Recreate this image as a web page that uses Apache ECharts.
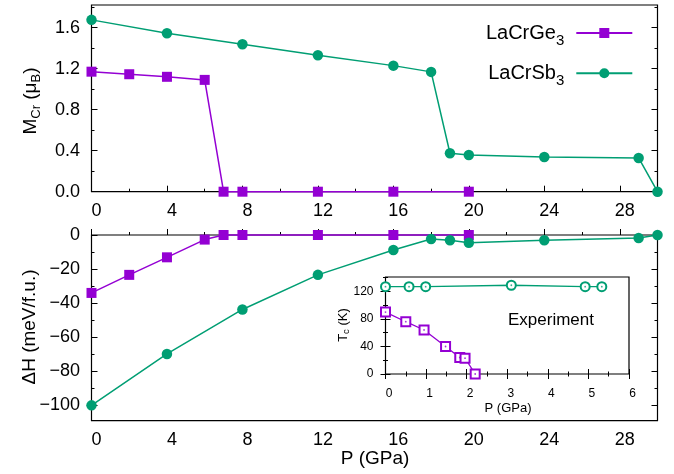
<!DOCTYPE html>
<html>
<head>
<meta charset="utf-8">
<script src="https://cdn.jsdelivr.net/npm/echarts@6/dist/echarts.min.js"></script>
<style>
  html, body { margin: 0; padding: 0; background: #fff; }
  #chart { width: 674px; height: 474px; }
</style>
</head>
<body>
<div id="chart"></div>
<script>
// Calculated Cr moment and enthalpy difference versus pressure
const pressureGe = [0, 2, 4, 6, 7, 8, 12, 16, 20];
const momentGe = [1.17, 1.145, 1.12, 1.09, 0, 0, 0, 0, 0];
const enthalpyGe = [-34, -23.4, -13.1, -2.7, 0, 0, 0, 0, 0];

const pressureSb = [0, 4, 8, 12, 16, 18, 19, 20, 24, 29, 30];
const momentSb = [1.675, 1.545, 1.438, 1.33, 1.229, 1.168, 0.375, 0.358, 0.339, 0.329, 0];
const enthalpySb = [-100, -69.8, -43.7, -23.4, -8.8, -2.3, -3.1, -4.5, -3.1, -1.8, 0];

// Measured Curie temperatures (inset)
const expPressureGe = [0, 0.5, 0.95, 1.48, 1.83, 1.96, 2.21];
const expTcGe = [90, 76, 64, 40, 24, 23, 0];
const expPressureSb = [0, 0.58, 0.99, 3.1, 4.92, 5.33];
const expTcSb = [127, 127, 127, 129, 127, 127];

// Tick positions
const pressureTicks = [0, 4, 8, 12, 16, 20, 24, 28];
const pressureMinorTicks = [2, 6, 10, 14, 18, 22, 26, 30];
const momentTicks = [0, 0.4, 0.8, 1.2, 1.6];
const momentMinorTicks = [0.2, 0.6, 1.0, 1.4, 1.8];
const enthalpyTicks = [-100, -80, -60, -40, -20, 0];
const enthalpyMinorTicks = [-90, -70, -50, -30, -10];
const expPressureTicks = [0, 1, 2, 3, 4, 5, 6];
const expPressureMinorTicks = [0.5, 1.5, 2.5, 3.5, 4.5, 5.5];
const tcTicks = [0, 40, 80, 120];
const tcMinorTicks = [20, 60, 100, 140];

const seriesNames = ['LaCrGe3', 'LaCrSb3'];

const PURPLE = '#9400d3';
const GREEN = '#009e73';
const FONT = '"Liberation Sans", Arial, Helvetica, sans-serif';

const zip = (xs, ys) => xs.map((x, i) => [x, ys[i]]);
const minus = v => String(v).replace('-', '\u2212');

// One value axis: either the labelled major axis or a tick-only companion
function axis(gridIndex, position, min, max, ticks, len, label) {
  return {
    type: 'value', gridIndex, position, min, max,
    axisLine: { show: false },
    splitLine: { show: false },
    axisTick: { show: true, inside: true, length: len, customValues: ticks,
                lineStyle: { color: '#000', width: 1 } },
    axisLabel: label
      ? Object.assign({ show: true, customValues: ticks, color: '#000', fontFamily: FONT }, label)
      : { show: false }
  };
}

const xAxes = [
  axis(0, 'bottom', 0, 30, pressureTicks, 6,
       { fontSize: 18, margin: 10, padding: [0, 0, 0, 10], formatter: v => String(v) }),
  axis(0, 'bottom', 0, 30, pressureMinorTicks, 3),
  axis(1, 'bottom', 0, 30, pressureTicks, 6,
       { fontSize: 18, margin: 10, padding: [0, 0, 0, 10], formatter: v => String(v) }),
  axis(1, 'bottom', 0, 30, pressureMinorTicks, 3),
  axis(2, 'bottom', 0, 6, expPressureTicks, 5,
       { fontSize: 12, margin: 14, padding: [0, 0, 0, 7], formatter: v => String(v) }),
  axis(2, 'bottom', 0, 6, expPressureMinorTicks, 2.5),
  axis(2, 'top', 0, 6, expPressureTicks, 5),
  axis(2, 'top', 0, 6, expPressureMinorTicks, 2.5)
];

const yAxes = [
  axis(0, 'left', 0, 1.82, momentTicks, 6,
       { fontSize: 18, margin: 11.5, formatter: v => v.toFixed(1) }),
  axis(0, 'left', 0, 1.82, momentMinorTicks, 3),
  axis(0, 'right', 0, 1.82, momentTicks, 6),
  axis(0, 'right', 0, 1.82, momentMinorTicks, 3),
  axis(1, 'left', -109, 0, enthalpyTicks, 6,
       { fontSize: 18, margin: 11.5, formatter: v => minus(v) }),
  axis(1, 'left', -109, 0, enthalpyMinorTicks, 3),
  axis(1, 'right', -109, 0, enthalpyTicks, 6),
  axis(1, 'right', -109, 0, enthalpyMinorTicks, 3),
  axis(2, 'left', 0, 141, tcTicks, 5,
       { fontSize: 12, margin: 12, formatter: v => String(v) }),
  axis(2, 'left', 0, 141, tcMinorTicks, 2.5),
  axis(2, 'right', 0, 141, tcTicks, 5),
  axis(2, 'right', 0, 141, tcMinorTicks, 2.5)
];

function lineSeries(name, color, symbol, size, xi, yi, data) {
  return {
    type: 'line', name, xAxisIndex: xi, yAxisIndex: yi, data,
    symbol, symbolSize: size, showSymbol: true, clip: false,
    color, lineStyle: { color, width: 1.5 },
    itemStyle: { color, borderWidth: 0 },
    emphasis: { disabled: true }, z: 3
  };
}

function hollowSeries(name, color, symbol, xi, yi, data) {
  return {
    type: 'line', name, xAxisIndex: xi, yAxisIndex: yi, data,
    symbol, symbolSize: 9, showSymbol: true, clip: false,
    color, lineStyle: { color, width: 1.3 },
    itemStyle: { color, borderColor: color, borderWidth: 1.5 },
    emphasis: { disabled: true }, z: 3
  };
}

function centreDots(name, color, xi, yi, data) {
  return {
    type: 'scatter', name, xAxisIndex: xi, yAxisIndex: yi, data,
    symbol: 'circle', symbolSize: 1.8, clip: false,
    itemStyle: { color }, emphasis: { disabled: true }, z: 4
  };
}

const series = [
  lineSeries(seriesNames[0], PURPLE, 'rect', 10, 0, 0, zip(pressureGe, momentGe)),
  lineSeries(seriesNames[1], GREEN, 'circle', 10.5, 0, 0, zip(pressureSb, momentSb)),
  lineSeries(seriesNames[0], PURPLE, 'rect', 10, 2, 4, zip(pressureGe, enthalpyGe)),
  lineSeries(seriesNames[1], GREEN, 'circle', 10.5, 2, 4, zip(pressureSb, enthalpySb)),
  hollowSeries('Tc LaCrGe3', PURPLE, 'emptyRect', 4, 8, zip(expPressureGe, expTcGe)),
  hollowSeries('Tc LaCrSb3', GREEN, 'emptyCircle', 4, 8, zip(expPressureSb, expTcSb)),
  centreDots('Tc LaCrGe3 centre', PURPLE, 4, 8, zip(expPressureGe, expTcGe)),
  centreDots('Tc LaCrSb3 centre', GREEN, 4, 8, zip(expPressureSb, expTcSb))
];

const subRich = {
  s: { fontSize: 15, fontFamily: FONT, color: '#000', verticalAlign: 'bottom' }
};

function legendFor(name, top) {
  return {
    data: [name], right: 40.7, top, orient: 'vertical', align: 'right',
    padding: 0, itemWidth: 56, itemHeight: 12.5,
    selectedMode: false,
    formatter: n => n.replace(/(\d+)$/, '{s|$1}'),
    textStyle: { fontSize: 20, fontFamily: FONT, color: '#000', lineHeight: 30,
                 padding: [0, 7, 0, 0], rich: subRich }
  };
}

const titleStyle = (text, size, subSize, lh) => ({
  text, fontSize: size, fontFamily: FONT, fill: '#000',
  align: 'center', verticalAlign: 'middle', lineHeight: lh,
  rich: {
    m: { fontSize: size, fontFamily: FONT, fill: '#000', color: '#000', lineHeight: lh },
    s: { fontSize: subSize, fontFamily: FONT, fill: '#000', color: '#000', verticalAlign: 'bottom' }
  }
});

const option = {
  animation: false,
  backgroundColor: '#fff',
  grid: [
    { left: 91.5, top: 5, width: 566, height: 186.7, show: true,
      borderColor: '#000', borderWidth: 1.2, backgroundColor: 'transparent' },
    { left: 91.5, top: 235, width: 566, height: 185.7, show: true,
      borderColor: '#000', borderWidth: 1.2, backgroundColor: 'transparent' },
    { left: 385.5, top: 277, width: 243.5, height: 97, show: true,
      borderColor: '#000', borderWidth: 1.2, backgroundColor: 'transparent' }
  ],
  xAxis: xAxes,
  yAxis: yAxes,
  legend: [legendFor(seriesNames[0], 18), legendFor(seriesNames[1], 58.3)],
  series,
  graphic: [
    { type: 'text', x: 31, y: 101, rotation: Math.PI / 2,
      style: titleStyle('{m|M}{s|Cr}{m| (\u03bc}{s|B}{m|)}', 19, 13, 24) },
    { type: 'text', x: 29.5, y: 327, rotation: Math.PI / 2,
      style: titleStyle('\u0394H (meV/f.u.)', 19, 13, 24) },
    { type: 'text', x: 375, y: 459,
      style: titleStyle('P (GPa)', 19, 13, 24) },
    { type: 'text', x: 343, y: 325, rotation: Math.PI / 2,
      style: titleStyle('{m|T}{s|c}{m| (K)}', 13, 9.5, 17) },
    { type: 'text', x: 508, y: 408,
      style: titleStyle('P (GPa)', 13, 9.5, 17) },
    { type: 'text', x: 551, y: 320,
      style: titleStyle('Experiment', 17, 12, 20) }
  ]
};

echarts.init(document.getElementById('chart'), null, { renderer: 'canvas' }).setOption(option);
</script>
</body>
</html>
